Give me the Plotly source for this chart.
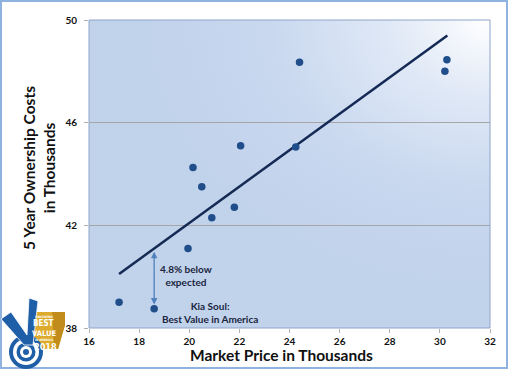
import base64
import plotly.graph_objects as go

# ---- data ----
market_price = [17.2, 18.6, 19.95, 20.15, 20.5, 20.9, 21.8, 22.05, 24.25, 24.4, 30.2, 30.28]
ownership_cost = [39.0, 38.75, 41.1, 44.25, 43.5, 42.3, 42.7, 45.1, 45.05, 48.35, 48.0, 48.45]
trend_x = [17.2, 30.3]
trend_y = [40.1, 49.4]
kia_index = 1
x_ticks = [16, 18, 20, 22, 24, 26, 28, 30, 32]
y_ticks = [38, 42, 46, 50]
logo_lines = ["VINCENTRIC", "BEST", "VALUE", "IN AMERICA", "2018"]

W, H = 510, 370
L, R, T, B = 89, 20, 20, 42
PW, PH = W - L - R, H - T - B


def px(xp):
    return (xp - L) / PW


def py(yp):
    return (H - B - yp) / PH


def svg_uri(svg):
    return "data:image/svg+xml;base64," + base64.b64encode(svg.encode()).decode()


bg_svg = """<svg xmlns='http://www.w3.org/2000/svg' width='400' height='300' viewBox='0 0 400 300' preserveAspectRatio='none'>
<defs><radialGradient id='g' cx='1' cy='0' r='0.85' gradientUnits='objectBoundingBox'>
<stop offset='0' stop-color='#ffffff'/><stop offset='0.3' stop-color='#dfe8f6'/>
<stop offset='0.65' stop-color='#c9d8ef'/><stop offset='1' stop-color='#c1d2eb'/></radialGradient></defs>
<rect x='0' y='0' width='400' height='300' fill='url(#g)'/></svg>"""

# logo graphic (origin at page pixel (0, 295))
logo_svg = """<svg xmlns='http://www.w3.org/2000/svg' width='66' height='75' viewBox='0 0 66 75'>
<polygon points='33,17 65,17 65,30 58,54 33,54' fill='#dcaa2c'/>
<polygon points='52,17 65,17 65,30 58,54 54,54' fill='#c28c1c'/>
<circle cx='26' cy='57' r='17' fill='#1f5fa8'/>
<circle cx='26' cy='57' r='13' fill='#ffffff'/>
<circle cx='26' cy='57' r='9.5' fill='#1f5fa8'/>
<circle cx='26' cy='57' r='6' fill='#ffffff'/>
<circle cx='26' cy='57' r='3' fill='#1f5fa8'/>
<polygon points='1,24 11,17 27,40 29,3 38,6 33,50 24,50' fill='#1f5fa8' stroke='#ffffff' stroke-width='0.8'/>
</svg>"""

fig = go.Figure()

fig.add_trace(go.Scatter(
    x=trend_x, y=trend_y, mode="lines",
    line=dict(color="#142a55", width=2.5), hoverinfo="skip", showlegend=False))

fig.add_trace(go.Scatter(
    x=market_price, y=ownership_cost, mode="markers",
    marker=dict(color="#1f4e8a", size=7.5), showlegend=False))

kia_x = market_price[kia_index]
kia_y = ownership_cost[kia_index]
slope = (trend_y[1] - trend_y[0]) / (trend_x[1] - trend_x[0])
trend_at_kia = trend_y[0] + slope * (kia_x - trend_x[0])

paper_txt = dict(xref="paper", yref="paper", showarrow=False, xanchor="center",
                 yanchor="middle", borderpad=0)

annotations = [
    dict(x=kia_x, y=kia_y + 0.17, ax=kia_x, ay=trend_at_kia - 0.06,
         xref="x", yref="y", axref="x", ayref="y", text="", showarrow=True,
         arrowhead=2, startarrowhead=2, arrowside="end+start", arrowsize=1,
         arrowwidth=1.3, arrowcolor="#4f81bd", startarrowsize=1),
    dict(x=19.87, y=40.03, xref="x", yref="y", showarrow=False,
         text="4.8% below<br>expected",
         font=dict(family="Lato", size=10, color="#1a2540", weight="bold")),
    dict(x=20.83, y=38.62, xref="x", yref="y", showarrow=False,
         text="Kia Soul:<br>Best Value in America",
         font=dict(family="Lato", size=10, color="#1a2540", weight="bold")),
    dict(x=px(39), y=py(168), text="5 Year Ownership Costs<br>in Thousands", textangle=-90,
         font=dict(family="Lato", size=15.5, color="#111111", weight="bold"), **paper_txt),
    dict(x=px(281), y=py(355), text="Market Price in Thousands",
         font=dict(family="Lato", size=15.5, color="#111111", weight="bold"), **paper_txt),
]

# logo text, stacked
logo_sizes = [3, 8, 7.5, 3, 9]
logo_x = [44, 43, 44, 44, 45]
top = 315.5
for txt, sz, lx in zip(logo_lines, logo_sizes, logo_x):
    h = 1.2 * sz
    annotations.append(dict(x=px(lx), y=py(top + h / 2), text=txt,
                            font=dict(family="DejaVu Sans Condensed", size=sz,
                                      color="#ffffff", weight="bold"), **paper_txt))
    top += h

fig.update_layout(
    width=W, height=H,
    margin=dict(l=L, r=R, t=T, b=B, pad=0),
    paper_bgcolor="#ffffff",
    plot_bgcolor="rgba(0,0,0,0)",
    annotations=annotations,
    images=[
        dict(source=svg_uri(bg_svg), xref="paper", yref="paper", x=0, y=1,
             sizex=1, sizey=1, xanchor="left", yanchor="top", sizing="stretch", layer="below"),
        dict(source=svg_uri(logo_svg), xref="paper", yref="paper", x=px(0), y=py(295),
             sizex=66 / PW, sizey=75 / PH, xanchor="left", yanchor="top", sizing="stretch", layer="above"),
    ],
    shapes=[
        dict(type="rect", xref="paper", yref="paper", x0=px(1), x1=px(507), y0=py(368), y1=py(1),
             line=dict(color="#8fb2de", width=2), fillcolor="rgba(0,0,0,0)", layer="below"),
        dict(type="rect", xref="paper", yref="paper", x0=0, x1=1, y0=0, y1=1,
             line=dict(color="#8ea5c8", width=1), fillcolor="rgba(0,0,0,0)", layer="above"),
    ],
    xaxis=dict(range=[16, 32], tickvals=x_ticks, ticktext=[str(v) for v in x_ticks],
               showgrid=False, zeroline=False, ticks="outside", ticklen=4, tickcolor="#b0b0b0",
               showline=False, ticklabelstandoff=0,
               tickfont=dict(family="Lato", size=10, color="#111111", weight="bold")),
    yaxis=dict(range=[38, 50], tickvals=y_ticks, ticktext=[str(v) for v in y_ticks],
               showgrid=True, gridcolor="#a6a6a6", gridwidth=1, zeroline=False,
               ticks="outside", ticklen=4, tickcolor="#b0b0b0", showline=False,
               ticklabelstandoff=5,
               tickfont=dict(family="Lato", size=10, color="#111111", weight="bold")),
)

fig.write_html("out.html", config={"displayModeBar": False},
               post_script="document.body.style.margin='0';document.body.style.padding='0';")
